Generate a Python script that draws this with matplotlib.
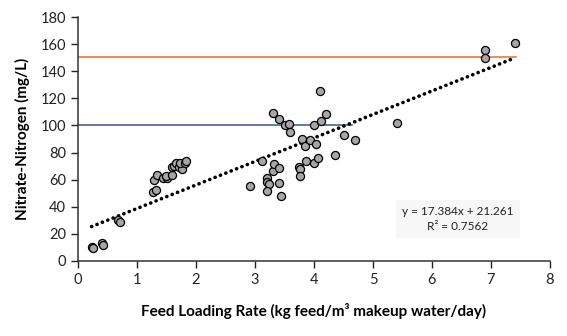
import numpy as np
import matplotlib
matplotlib.use('Agg')
import matplotlib.pyplot as plt

plt.rcParams['font.family'] = ['Lato', 'DejaVu Sans']

# feed loading rate (kg feed/m3 makeup water/day) vs nitrate-nitrogen (mg/L)
feed_rate = [
    0.23, 0.25, 0.40, 0.42, 0.68, 0.72,
    1.28, 1.27, 1.32, 1.34, 1.44, 1.50, 1.49, 1.59, 1.59, 1.63, 1.66,
    1.72, 1.76, 1.73, 1.81, 1.83,
    2.91, 3.12, 3.20, 3.20, 3.24, 3.20, 3.30, 3.32, 3.41, 3.41, 3.44,
    3.30, 3.41, 3.50, 3.57, 3.59, 3.74, 3.77, 3.77, 3.80, 3.84, 3.86,
    3.94, 4.00, 4.00, 4.04, 4.07, 4.10, 4.12, 4.21, 4.35, 4.51, 4.70,
    5.40, 6.90, 6.90, 7.40,
]
nitrate_n = [
    10.0, 9.5, 13.0, 12.0, 30.0, 29.0,
    59.8, 51.0, 52.4, 63.5, 61.0, 61.0, 62.7, 63.5, 69.2, 70.1, 72.6,
    69.2, 67.7, 72.1, 72.6, 74.0,
    55.3, 73.8, 61.0, 58.5, 56.8, 51.9, 66.4, 71.4, 68.9, 57.3, 48.1,
    109.2, 105.0, 100.5, 101.3, 95.1, 69.6, 68.0, 62.5, 90.1, 85.2, 73.6,
    89.4, 100.0, 72.6, 86.4, 75.9, 125.2, 103.0, 108.4, 78.5, 93.1, 89.2,
    101.8, 156.0, 150.0, 161.0,
]

# linear fit reported on the chart
slope, intercept, r2 = 17.384, 21.261, 0.7562

# reference levels
upper_level, upper_x = 151.0, [0.0, 7.43]
lower_level, lower_x = 100.5, [0.0, 4.64]

fig = plt.figure(figsize=(5.67, 3.36), dpi=100)
ax = fig.add_axes([0.1376, 0.224, 0.8324, 0.7245])

ax.plot(upper_x, [upper_level] * 2, color='#E07B39', lw=1.2, zorder=1)
ax.plot(lower_x, [lower_level] * 2, color='#4F6199', lw=1.2, zorder=1)

# dotted trendline over the data range
xfit = np.array([min(feed_rate), max(feed_rate)])
ax.plot(xfit, slope * xfit + intercept, color='black', lw=2.6,
        linestyle=(0, (0.05, 1.55)), dash_capstyle='round', zorder=2)

ax.scatter(feed_rate, nitrate_n, s=34, facecolor='#A6A6A6', edgecolor='black',
           linewidths=0.9, zorder=3)

ax.text(6.44, 31, f'y = {slope}x + {intercept}\nR² = {r2}', ha='center',
        va='center', fontsize=8.5, linespacing=1.45, color='#222222',
        bbox=dict(boxstyle='square,pad=0.5', facecolor='#F6F7F6', edgecolor='none'))

ax.set_xlim(0, 8)
ax.set_ylim(0, 180)
ax.set_xticks(range(0, 9))
ax.set_yticks(range(0, 181, 20))
ax.tick_params(direction='out', length=5, width=1, labelsize=10.5, colors='#222222')
for side in ['top', 'right']:
    ax.spines[side].set_visible(False)
for side in ['left', 'bottom']:
    ax.spines[side].set_color('#333333')
    ax.spines[side].set_linewidth(1.1)

ax.set_xlabel('Feed Loading Rate (kg feed/m³ makeup water/day)', fontsize=11,
              fontweight='bold', labelpad=12)
ax.set_ylabel('Nitrate-Nitrogen (mg/L)', fontsize=11, fontweight='bold', labelpad=8)

fig.savefig('out.png', dpi=100)
